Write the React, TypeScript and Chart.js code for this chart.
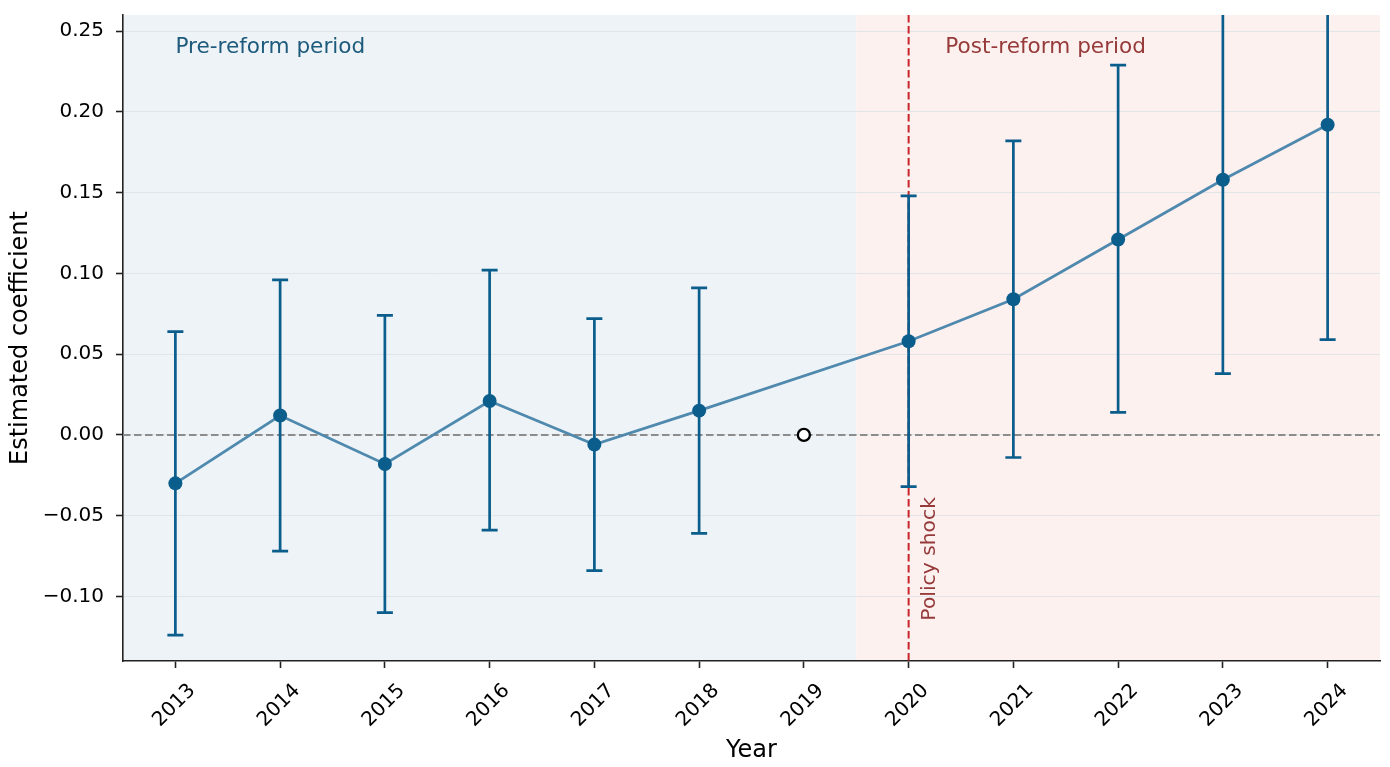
import React, { useEffect, useRef } from 'react';
import Chart from 'chart.js/auto';

const years = ['2013', '2014', '2015', '2016', '2017', '2018', '2019', '2020', '2021', '2022', '2023', '2024'];
// 2019 is the omitted reference year
const coef = [-0.030, 0.012, -0.018, 0.021, -0.006, 0.015, null, 0.058, 0.084, 0.121, 0.158, 0.192];
const ciLow = [-0.124, -0.072, -0.110, -0.059, -0.084, -0.061, null, -0.032, -0.014, 0.014, 0.038, 0.059];
const ciHigh = [0.064, 0.096, 0.074, 0.102, 0.072, 0.091, null, 0.148, 0.182, 0.229, 0.278, 0.325];
const refIndex = 6;
const refValue = 0;
const shockIndex = 7;
const yTicks = [-0.10, -0.05, 0.0, 0.05, 0.10, 0.15, 0.20, 0.25];
const yMin = -0.14;
const yMax = 0.26;

const FONT = "'DejaVu Sans', sans-serif";
const BLUE = '#0b5d8c';
const LINE_BLUE = '#4f89ae';
const RED = '#c9252b';
const TEXT_RED = '#963a3a';
const TEXT_BLUE = '#1d5a7c';

const overlay = {
  id: 'overlay',
  beforeDraw(chart: any) {
    const { ctx, chartArea: a, scales } = chart;
    const x = scales.x;
    const split = (x.getPixelForValue(refIndex) + x.getPixelForValue(shockIndex)) / 2;
    ctx.save();
    ctx.fillStyle = '#edf3f7';
    ctx.fillRect(a.left, a.top, split - a.left, a.bottom - a.top);
    ctx.fillStyle = '#fdf1f0';
    ctx.fillRect(split, a.top, a.right - split, a.bottom - a.top);
    ctx.restore();
  },
  beforeDatasetsDraw(chart: any) {
    const { ctx, chartArea: a, scales } = chart;
    const { x, y } = scales;
    ctx.save();
    ctx.beginPath();
    ctx.rect(a.left, a.top, a.right - a.left, a.bottom - a.top);
    ctx.clip();

    // zero line
    ctx.strokeStyle = '#8c8c8c';
    ctx.lineWidth = 2;
    ctx.setLineDash([7.5, 3.5]);
    const y0 = y.getPixelForValue(0);
    ctx.beginPath();
    ctx.moveTo(a.left, y0);
    ctx.lineTo(a.right, y0);
    ctx.stroke();

    // policy shock line
    ctx.strokeStyle = RED;
    ctx.lineWidth = 2;
    const xs = x.getPixelForValue(shockIndex);
    ctx.beginPath();
    ctx.moveTo(xs, a.top);
    ctx.lineTo(xs, a.bottom);
    ctx.stroke();
    ctx.setLineDash([]);

    // error bars
    ctx.strokeStyle = BLUE;
    ctx.lineWidth = 2.7;
    for (let i = 0; i < years.length; i++) {
      if (ciLow[i] == null || ciHigh[i] == null) continue;
      const px = x.getPixelForValue(i);
      const lo = y.getPixelForValue(ciLow[i]);
      const hi = y.getPixelForValue(ciHigh[i]);
      ctx.beginPath();
      ctx.moveTo(px, lo);
      ctx.lineTo(px, hi);
      ctx.moveTo(px - 8, lo);
      ctx.lineTo(px + 8, lo);
      ctx.moveTo(px - 8, hi);
      ctx.lineTo(px + 8, hi);
      ctx.stroke();
    }
    ctx.restore();
  },
  afterDatasetsDraw(chart: any) {
    const { ctx, scales } = chart;
    const { x, y } = scales;
    const step = x.getPixelForValue(1) - x.getPixelForValue(0);
    ctx.save();
    ctx.font = `21.6px ${FONT}`;
    ctx.textBaseline = 'middle';
    ctx.textAlign = 'left';
    ctx.fillStyle = TEXT_BLUE;
    ctx.fillText('Pre-reform period', x.getPixelForValue(0), y.getPixelForValue(0.24));
    ctx.fillStyle = TEXT_RED;
    ctx.fillText('Post-reform period', x.getPixelForValue(shockIndex) + step * 0.35, y.getPixelForValue(0.24));

    ctx.font = `20.3px ${FONT}`;
    ctx.translate(x.getPixelForValue(shockIndex) + step * 0.2, y.getPixelForValue(-0.115));
    ctx.rotate(-Math.PI / 2);
    ctx.textAlign = 'left';
    ctx.textBaseline = 'middle';
    ctx.fillText('Policy shock', 0, 0);
    ctx.restore();
  },
};

const EventStudyChart = () => {
  const canvasRef = useRef<HTMLCanvasElement | null>(null);
  const chartRef = useRef<Chart | null>(null);

  useEffect(() => {
    if (!canvasRef.current) return;
    if (chartRef.current) chartRef.current.destroy();

    const refData = years.map((_, i) => (i === refIndex ? refValue : null));

    chartRef.current = new Chart(canvasRef.current, {
      type: 'line',
      data: {
        labels: years,
        datasets: [
          {
            label: 'Reference',
            data: refData,
            showLine: false,
            pointRadius: 6,
            pointBackgroundColor: '#ffffff',
            pointBorderColor: '#000000',
            pointBorderWidth: 2.3,
          },
          {
            label: 'Estimate',
            data: coef,
            showLine: false,
            pointRadius: 7,
            pointBackgroundColor: BLUE,
            pointBorderWidth: 0,
          },
          {
            label: 'Trend',
            data: coef,
            spanGaps: true,
            borderColor: LINE_BLUE,
            borderWidth: 2.8,
            pointRadius: 0,
            tension: 0,
          },
        ],
      },
      options: {
        animation: false,
        responsive: true,
        maintainAspectRatio: false,
        layout: { padding: { left: 0, right: 10, top: 15, bottom: 0 } },
        plugins: {
          legend: { display: false },
          tooltip: { enabled: false },
        },
        scales: {
          x: {
            type: 'category',
            offset: true,
            afterFit: (s: any) => {
              s.height = 106;
              s.paddingLeft = 0;
              s.paddingRight = 0;
            },
            grid: { drawOnChartArea: false, drawTicks: true, tickLength: 7, tickColor: '#222', tickWidth: 1.6 },
            border: { display: true, color: '#222', width: 1.6 },
            ticks: {
              color: '#000',
              font: { family: FONT, size: 20 },
              maxRotation: 45,
              minRotation: 45,
              labelOffset: 17,
              padding: 11,
            },
            title: {
              display: true,
              text: 'Year',
              color: '#000',
              font: { family: FONT, size: 24 },
              padding: { top: 0, bottom: 2 },
            },
          },
          y: {
            min: yMin,
            max: yMax,
            afterFit: (s: any) => {
              s.width = 123;
              s.paddingTop = 0;
              s.paddingBottom = 0;
            },
            afterBuildTicks: (s: any) => {
              s.ticks = yTicks.map((v) => ({ value: v }));
            },
            grid: { color: '#e2e5e7', lineWidth: 1, drawTicks: true, tickLength: 7, tickColor: '#222', tickWidth: 1.6 },
            border: { display: true, color: '#222', width: 1.6 },
            ticks: {
              color: '#000',
              font: { family: FONT, size: 20 },
              padding: 12,
              callback: (v: any) => {
                const n = Number(v);
                const s = Math.abs(n).toFixed(2);
                return n < -1e-9 ? '\u2212' + s : s;
              },
            },
            title: {
              display: true,
              text: 'Estimated coefficient',
              color: '#000',
              font: { family: FONT, size: 24 },
              padding: { top: 6, bottom: 0 },
            },
          },
        },
      },
      plugins: [overlay],
    });

    return () => {
      if (chartRef.current) {
        chartRef.current.destroy();
        chartRef.current = null;
      }
    };
  }, []);

  return (
    <div style={{ position: 'fixed', left: 0, top: 0, width: '1390px', height: '767px', background: '#fff' }}>
      <canvas ref={canvasRef} />
    </div>
  );
};

export default function App() {
  return <EventStudyChart />;
}
